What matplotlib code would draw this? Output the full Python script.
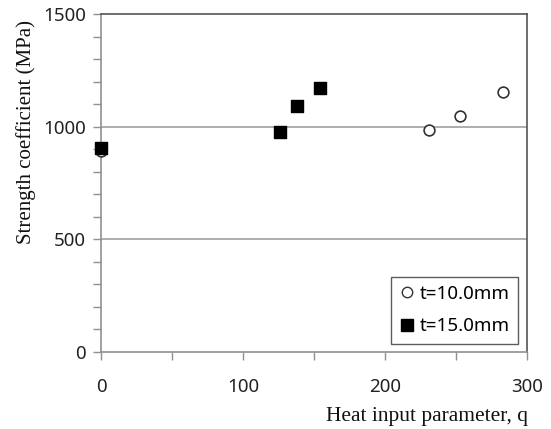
import matplotlib
matplotlib.use("Agg")
import matplotlib.pyplot as plt
from matplotlib.ticker import MultipleLocator
from matplotlib.lines import Line2D

q_10 = [0, 231, 253, 283]
k_10 = [893, 987, 1049, 1155]
q_15 = [0, 126, 138, 154]
k_15 = [907, 978, 1093, 1172]
x_ticks = [0, 100, 200, 300]
y_ticks = [0, 500, 1000, 1500]

fig = plt.figure(figsize=(5.51, 4.29), dpi=100)
ax = fig.add_axes([0.1833, 0.1795, 0.9564 - 0.1833, 0.9674 - 0.1795])
ax.set_xlim(0, 300)
ax.set_ylim(0, 1500)

for y in [500, 1000]:
    ax.axhline(y, color="#a0a0a0", lw=1.2, zorder=1)

ax.scatter(q_10, k_10, marker="o", s=60, facecolors="white", edgecolors="#333333",
           linewidths=1.2, zorder=3, clip_on=False)
ax.scatter(q_15, k_15, marker="s", s=65, facecolors="black", edgecolors="black",
           zorder=4, clip_on=False)

ax.set_xticks(x_ticks)
ax.set_yticks(y_ticks)
ax.xaxis.set_minor_locator(MultipleLocator(50))
ax.yaxis.set_minor_locator(MultipleLocator(100))
ax.tick_params(axis="both", which="both", direction="out", color="#909090", width=1.0)
ax.tick_params(axis="both", which="major", length=6, labelsize=13.5, labelcolor="#222222")
ax.tick_params(axis="y", which="major", pad=5)
ax.tick_params(axis="x", which="major", pad=13)
ax.tick_params(axis="both", which="minor", length=6)
for lab in ax.get_xticklabels() + ax.get_yticklabels():
    lab.set_family(["Noto Sans", "DejaVu Sans"])

ax.spines["left"].set_color("#909090")
ax.spines["bottom"].set_color("#909090")
ax.spines["top"].set_color("#555555")
ax.spines["right"].set_color("#555555")
for s in ax.spines.values():
    s.set_linewidth(1.2)

fig.text(26 / 551, 1 - 132 / 429, "Strength coefficient (MPa)",
         family=["Liberation Serif", "DejaVu Serif"], fontsize=15, color="#111111",
         rotation=90, ha="center", va="center")
fig.text(0.958, 0.006, "Heat input parameter, q", family=["Liberation Serif", "DejaVu Serif"],
         fontsize=15.5, color="#111111", ha="right", va="bottom")

handles = [
    Line2D([], [], ls="none", marker="o", markersize=7.5, markerfacecolor="white",
           markeredgecolor="#333333", markeredgewidth=1.0),
    Line2D([], [], ls="none", marker="s", markersize=8, markerfacecolor="black",
           markeredgecolor="black"),
]
leg = ax.legend(handles, ["t=10.0mm", "t=15.0mm"], loc="lower right",
                bbox_to_anchor=(0.98, 0.025), frameon=True, fancybox=False,
                prop={"family": ["Noto Sans", "DejaVu Sans"], "size": 13.5},
                handletextpad=0.3, handlelength=0.8, labelspacing=0.75,
                borderpad=0.45, borderaxespad=0)
leg.get_frame().set_edgecolor("#333333")
leg.get_frame().set_linewidth(1.0)

fig.savefig("out.png", dpi=100)
